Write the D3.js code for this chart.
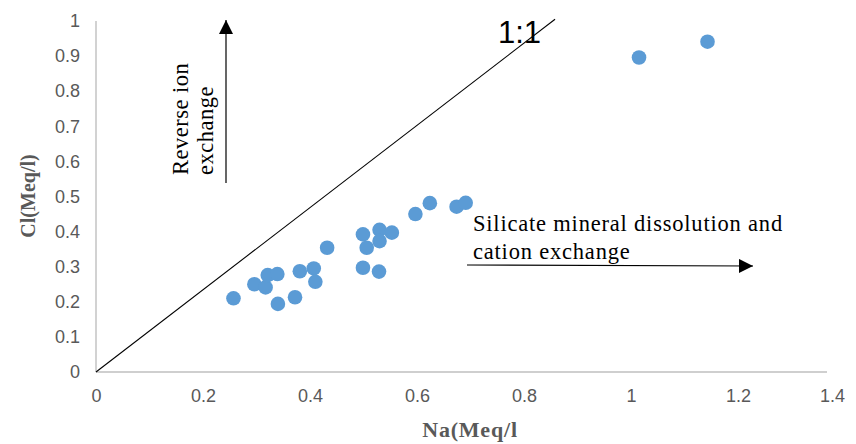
<!DOCTYPE html>
<html>
<head>
<meta charset="utf-8">
<script src="https://cdn.jsdelivr.net/npm/d3@7"></script>
<style>
  body { margin: 0; background: #fff; }
  svg { display: block; }
</style>
</head>
<body>
<svg id="chart"></svg>
<script>
// Na vs Cl (meq/l)
const naValues = [0.257, 0.296, 0.317, 0.321, 0.339, 0.340, 0.372, 0.381, 0.407, 0.410, 0.432,
  0.499, 0.506, 0.499, 0.530, 0.530, 0.529, 0.553, 0.597, 0.624, 0.674, 0.691, 1.015, 1.143];
const clValues = [0.210, 0.250, 0.241, 0.276, 0.279, 0.194, 0.213, 0.287, 0.295, 0.257, 0.354,
  0.392, 0.354, 0.297, 0.405, 0.373, 0.286, 0.397, 0.450, 0.481, 0.471, 0.482, 0.896, 0.941];
const xTicks = [0, 0.2, 0.4, 0.6, 0.8, 1, 1.2, 1.4];
const yTicks = [0, 0.1, 0.2, 0.3, 0.4, 0.5, 0.6, 0.7, 0.8, 0.9, 1];
const oneToOne = [[0, 0], [0.858, 1.005]];

(() => {
  const svgWidth = 856;
  const svgHeight = 444;

  const svg = d3.select('#chart')
    .attr('width', svgWidth)
    .attr('height', svgHeight);

  const xScale = d3.scaleLinear().domain([0, 1.4]).range([96, 845]);
  const yScale = d3.scaleLinear().domain([0, 1]).range([372, 21]);

  const labelColor = '#595959';
  const axisColor = '#bfbfbf';
  const sans = '"Liberation Sans", Arial, sans-serif';
  const serif = '"Liberation Serif", "Times New Roman", serif';

  // y axis
  const yAxis = svg.append('g')
    .attr('transform', `translate(${xScale(0)},0)`)
    .call(d3.axisLeft(yScale).tickValues(yTicks).tickSize(0).tickPadding(16)
      .tickFormat(d => String(d)));
  yAxis.select('.domain').remove();
  yAxis.selectAll('text')
    .attr('fill', labelColor)
    .style('font-family', sans)
    .style('font-size', '18px');

  // x axis
  const xAxis = svg.append('g')
    .attr('transform', `translate(0,${yScale(0)})`)
    .call(d3.axisBottom(xScale).tickValues(xTicks).tickSize(0).tickPadding(17)
      .tickFormat(d => String(d)));
  xAxis.select('.domain').remove();
  xAxis.selectAll('text')
    .attr('fill', labelColor)
    .style('font-family', sans)
    .style('font-size', '18px');
  // last label sits a bit left, at the end of the axis line
  xAxis.selectAll('.tick').filter(d => d === 1.4).select('text').attr('x', -13);

  // axis lines
  svg.append('line')
    .attr('x1', xScale(0)).attr('x2', xScale(0))
    .attr('y1', yScale(1)).attr('y2', yScale(0))
    .attr('stroke', axisColor).attr('stroke-width', 1.4);
  svg.append('line')
    .attr('x1', xScale(0)).attr('x2', 827)
    .attr('y1', yScale(0)).attr('y2', yScale(0))
    .attr('stroke', axisColor).attr('stroke-width', 1.4);

  // 1:1 line
  const line = d3.line()
    .x(d => xScale(d[0]))
    .y(d => yScale(d[1]));
  svg.append('path')
    .attr('d', line(oneToOne))
    .attr('fill', 'none')
    .attr('stroke', '#000')
    .attr('stroke-width', 1.1);

  svg.append('text')
    .attr('x', 498).attr('y', 43)
    .style('font-family', sans)
    .style('font-size', '31px')
    .text('1:1');

  // points
  const points = naValues.map((v, i) => ({ na: v, cl: clValues[i] }));
  svg.append('g')
    .selectAll('circle')
    .data(points)
    .enter()
    .append('circle')
    .attr('cx', d => xScale(d.na))
    .attr('cy', d => yScale(d.cl))
    .attr('r', 7.3)
    .attr('fill', '#5b9bd5');

  // axis titles
  svg.append('text')
    .attr('transform', 'translate(35,196) rotate(-90)')
    .attr('text-anchor', 'middle')
    .attr('fill', labelColor)
    .style('font-family', serif)
    .style('font-weight', 'bold')
    .style('font-size', '20px')
    .text('Cl(Meq/l)');

  svg.append('text')
    .attr('x', 470).attr('y', 437)
    .attr('text-anchor', 'middle')
    .attr('fill', labelColor)
    .style('font-family', serif)
    .style('font-weight', 'bold')
    .style('font-size', '22px')
    .style('letter-spacing', '0.8px')
    .text('Na(Meq/l');

  // annotations
  const rev = svg.append('text')
    .attr('transform', 'translate(188,175) rotate(-90)')
    .style('font-family', serif)
    .style('font-size', '22.5px')
    .style('letter-spacing', '0.5px');
  rev.append('tspan').attr('x', 0).attr('dy', 0).text('Reverse ion');
  rev.append('tspan').attr('x', 0).attr('dy', 25).text('exchange');

  svg.append('defs').append('marker')
    .attr('id', 'arrow')
    .attr('viewBox', '0 0 10 10')
    .attr('refX', 10).attr('refY', 5)
    .attr('markerWidth', 14).attr('markerHeight', 14)
    .attr('markerUnits', 'userSpaceOnUse')
    .attr('orient', 'auto')
    .append('path')
    .attr('d', 'M0,0 L10,5 L0,10 Z')
    .attr('fill', '#000');

  svg.append('line')
    .attr('x1', 226).attr('y1', 183)
    .attr('x2', 226).attr('y2', 20)
    .attr('stroke', '#000').attr('stroke-width', 1.2)
    .attr('marker-end', 'url(#arrow)');

  const sil = svg.append('text')
    .attr('x', 473).attr('y', 231)
    .style('font-family', serif)
    .style('font-size', '22.5px')
    .style('letter-spacing', '0.8px');
  sil.append('tspan').attr('x', 473).attr('dy', 0).text('Silicate mineral dissolution and');
  sil.append('tspan').attr('x', 473).attr('dy', 28).text('cation exchange');

  svg.append('line')
    .attr('x1', 467).attr('y1', 265)
    .attr('x2', 753).attr('y2', 266)
    .attr('stroke', '#000').attr('stroke-width', 1.2)
    .attr('marker-end', 'url(#arrow)');
})();
</script>
</body>
</html>
